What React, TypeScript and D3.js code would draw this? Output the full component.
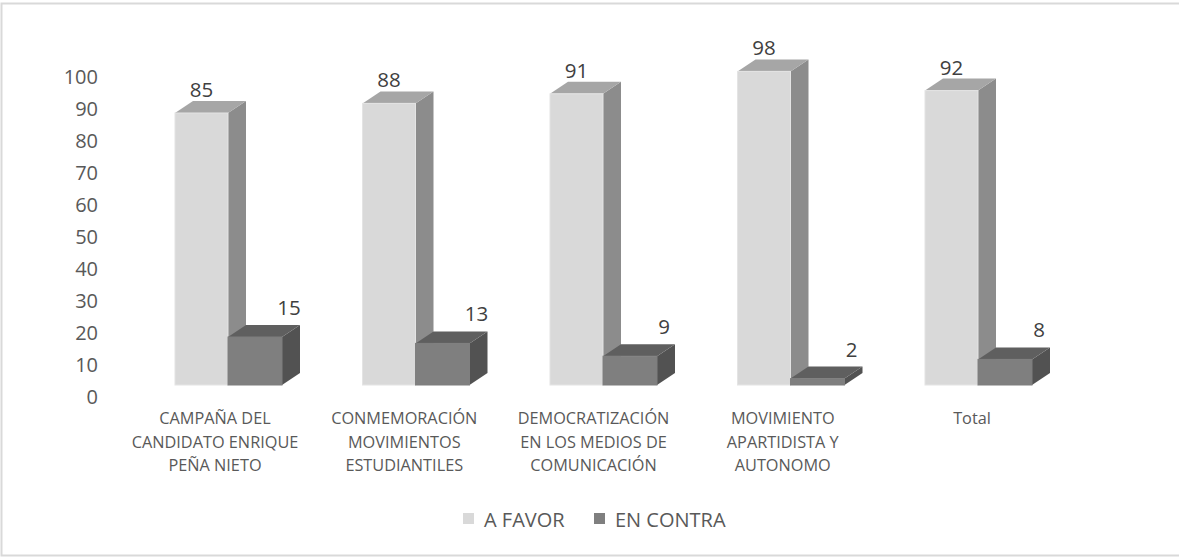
import React from "react";
import * as d3 from "d3";

// chart data
const categories = [
  ["CAMPAÑA DEL", "CANDIDATO ENRIQUE", "PEÑA NIETO"],
  ["CONMEMORACIÓN", "MOVIMIENTOS", "ESTUDIANTILES"],
  ["DEMOCRATIZACIÓN", "EN LOS MEDIOS DE", "COMUNICACIÓN"],
  ["MOVIMIENTO", "APARTIDISTA Y", "AUTONOMO"],
  ["Total"],
];
const aFavor = [85, 88, 91, 98, 92];
const enContra = [15, 13, 9, 2, 8];
const yTicks = [0, 10, 20, 30, 40, 50, 60, 70, 80, 90, 100];
const seriesNames = ["A FAVOR", "EN CONTRA"];

const W = 1179;
const H = 557;
const FONT = "'Open Sans', 'Noto Sans', sans-serif";

// 3d look
const depthX = 18;
const depthY = -12;
const barW = 53;

const palette = [
  { front: "#d9d9d9", top: "#a6a6a6", side: "#8c8c8c", edge: "#e4e4e4" },
  { front: "#7f7f7f", top: "#5f5f5f", side: "#525252", edge: "#7f7f7f" },
];

function Bar3D({ x0, x1, yTop, yBase, colors }) {
  const top = `M${x0},${yTop} L${x0 + depthX},${yTop + depthY} L${x1 + depthX},${yTop + depthY} L${x1},${yTop} Z`;
  const side = `M${x1},${yTop} L${x1 + depthX},${yTop + depthY} L${x1 + depthX},${yBase + depthY} L${x1},${yBase} Z`;
  return (
    <g>
      <path d={side} fill={colors.side} />
      <path d={top} fill={colors.top} />
      <rect x={x0} y={yTop} width={x1 - x0} height={yBase - yTop} fill={colors.front} stroke={colors.edge} strokeWidth={1} />
    </g>
  );
}

export default function App() {
  // junction between the two bars of each group
  const xJ = d3.scalePoint().domain(d3.range(categories.length)).range([228, 978]);
  // category label centres
  const xLab = d3.scalePoint().domain(d3.range(categories.length)).range([215, 972]);
  // bar front faces
  const yBar = d3.scaleLinear().domain([0, 100]).range([385, 65]);
  // tick label positions
  const yAxis = d3.scaleLinear().domain([0, 100]).range([396, 76]);

  return (
    <svg width={W} height={H} style={{ position: "absolute", left: 0, top: 0, background: "#fff" }}>
      <rect x={1.5} y={3.5} width={W + 10} height={552} fill="#fff" stroke="#d9d9d9" strokeWidth={2} />

      {/* y axis labels */}
      {yTicks.map((t) => (
        <text key={t} x={98} y={yAxis(t)} textAnchor="end" dominantBaseline="central"
          fontFamily={FONT} fontSize={20} fill="#595959">{t}</text>
      ))}

      {/* bars */}
      {categories.map((c, i) => {
        const j = xJ(i);
        return (
          <g key={i}>
            <Bar3D x0={j - barW} x1={j} yTop={yBar(aFavor[i])} yBase={yBar(0)} colors={palette[0]} />
            <Bar3D x0={j} x1={j + barW + 1} yTop={yBar(enContra[i])} yBase={yBar(0)} colors={palette[1]} />
            <text x={j - barW / 2} y={yBar(aFavor[i]) + depthY - 12} textAnchor="middle" dominantBaseline="central"
              fontFamily={FONT} fontSize={20.5} fill="#404040">{aFavor[i]}</text>
            <text x={j + barW + 8} y={yBar(enContra[i]) + depthY - 18} textAnchor="middle" dominantBaseline="central"
              fontFamily={FONT} fontSize={20.5} fill="#404040">{enContra[i]}</text>
          </g>
        );
      })}

      {/* category labels */}
      {categories.map((lines, i) => (
        <text key={i} textAnchor="middle" fontFamily={FONT} fontSize={16.3} fill="#595959">
          {lines.map((l, k) => (
            <tspan key={k} x={xLab(i)} y={418 + k * 23.5} dominantBaseline="central">{l}</tspan>
          ))}
        </text>
      ))}

      {/* legend */}
      {seriesNames.map((s, k) => {
        const lx = [463, 594][k];
        return (
          <g key={s}>
            <rect x={lx} y={513} width={11} height={11} fill={palette[k].front} />
            <text x={lx + 21} y={519} dominantBaseline="central" fontFamily={FONT} fontSize={20} fill="#595959">{s}</text>
          </g>
        );
      })}
    </svg>
  );
}
